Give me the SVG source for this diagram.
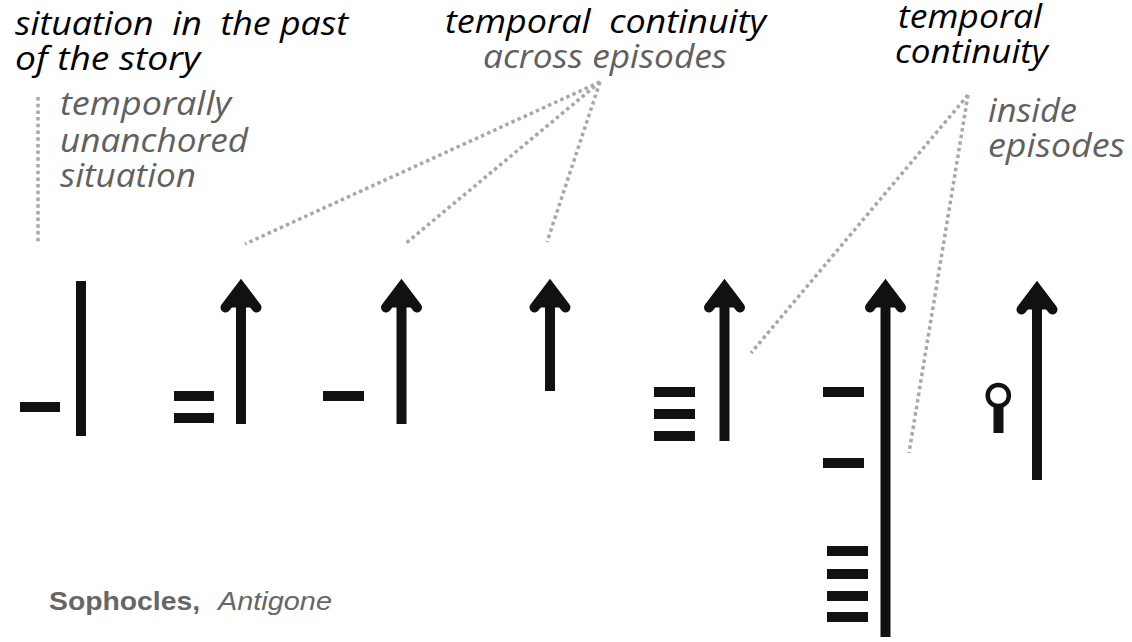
<svg xmlns="http://www.w3.org/2000/svg" xmlns:xlink="http://www.w3.org/1999/xlink" width="1132" height="642" viewBox="0 0 1132 642">
<style>
.t{font-family:"Open Sans","Liberation Sans",sans-serif;font-style:italic;font-size:33px;fill:#000}
.g{fill:#606060}
.dot{stroke:#a8a8a8;stroke-width:3.5;stroke-dasharray:3.5 3.2;fill:none}
.shaft{stroke:#111;stroke-width:10;fill:none}
.bar{fill:#111}
.cap{font-family:"Liberation Sans",Arial,sans-serif;font-size:26px;fill:#666}
</style>
<defs>
<polyline id="head" points="-15.5,30 0,9.5 15.5,30" fill="#111" stroke="#111" stroke-width="10" stroke-linecap="round" stroke-linejoin="miter"/>
</defs>
<rect width="1132" height="642" fill="#fff"/>

<g id="labels">
<text class="t" x="15" y="35" textLength="333" lengthAdjust="spacingAndGlyphs" xml:space="preserve">situation  in  the past</text>
<text class="t" x="15" y="70" textLength="185" lengthAdjust="spacingAndGlyphs">of the story</text>
<text class="t g" x="60" y="115" textLength="171" lengthAdjust="spacingAndGlyphs">temporally</text>
<text class="t g" x="60" y="152" textLength="188" lengthAdjust="spacingAndGlyphs">unanchored</text>
<text class="t g" x="60" y="187" textLength="136" lengthAdjust="spacingAndGlyphs">situation</text>
<text class="t" x="445" y="33" textLength="321" lengthAdjust="spacingAndGlyphs" xml:space="preserve">temporal  continuity</text>
<text class="t g" x="483" y="68" textLength="244" lengthAdjust="spacingAndGlyphs">across episodes</text>
<text class="t" x="898" y="28" textLength="144" lengthAdjust="spacingAndGlyphs">temporal</text>
<text class="t" x="895" y="63" textLength="153" lengthAdjust="spacingAndGlyphs">continuity</text>
<text class="t g" x="988" y="122" textLength="89" lengthAdjust="spacingAndGlyphs">inside</text>
<text class="t g" x="988" y="157" textLength="137" lengthAdjust="spacingAndGlyphs">episodes</text>
<text class="cap" x="49" y="610" font-weight="bold" textLength="151" lengthAdjust="spacingAndGlyphs">Sophocles,</text>
<text class="cap" x="218" y="610" font-style="italic" textLength="114" lengthAdjust="spacingAndGlyphs">Antigone</text>
</g>

<g id="connectors">
<line class="dot" x1="38" y1="97" x2="38" y2="243"/>
<line class="dot" x1="600" y1="82" x2="245" y2="244"/>
<line class="dot" x1="600" y1="82" x2="405" y2="244"/>
<line class="dot" x1="600" y1="82" x2="547" y2="242"/>
<line class="dot" x1="968" y1="95" x2="751" y2="353"/>
<line class="dot" x1="968" y1="95" x2="909" y2="453"/>
</g>

<g id="n1">
<rect class="bar" x="20" y="402" width="40" height="10"/>
<line class="shaft" x1="81" y1="281" x2="81" y2="436"/>
</g>

<g id="n2">
<rect class="bar" x="174" y="391" width="40" height="10"/>
<rect class="bar" x="174" y="413" width="40" height="10"/>
<line class="shaft" x1="241" y1="290" x2="241" y2="424"/>
<use xlink:href="#head" href="#head" transform="translate(241,277.5)"/>
</g>

<g id="n3">
<rect class="bar" x="323" y="391" width="41" height="10"/>
<line class="shaft" x1="401.5" y1="290" x2="401.5" y2="424"/>
<use xlink:href="#head" href="#head" transform="translate(401.5,277.5)"/>
</g>

<g id="n4">
<line class="shaft" x1="550" y1="290" x2="550" y2="391"/>
<use xlink:href="#head" href="#head" transform="translate(550,277.5)"/>
</g>

<g id="n5">
<rect class="bar" x="654" y="387" width="41" height="10"/>
<rect class="bar" x="654" y="409" width="41" height="10"/>
<rect class="bar" x="654" y="431" width="41" height="10"/>
<line class="shaft" x1="724.5" y1="290" x2="724.5" y2="441"/>
<use xlink:href="#head" href="#head" transform="translate(724.5,277.5)"/>
</g>

<g id="n6">
<rect class="bar" x="823" y="387" width="41" height="10"/>
<rect class="bar" x="823" y="458" width="41" height="10"/>
<rect class="bar" x="827" y="546" width="41" height="10"/>
<rect class="bar" x="827" y="569" width="41" height="10"/>
<rect class="bar" x="827" y="591" width="41" height="10"/>
<rect class="bar" x="827" y="612" width="41" height="10"/>
<line class="shaft" x1="885.5" y1="290" x2="885.5" y2="637" stroke-width="10.5"/>
<use xlink:href="#head" href="#head" transform="translate(885.5,277.5)"/>
</g>

<g id="n7">
<circle cx="998.3" cy="395.5" r="10.6" fill="#fff" stroke="#111" stroke-width="4.5"/>
<line class="shaft" x1="998.5" y1="406" x2="998.5" y2="433" stroke-width="8.5"/>
<line class="shaft" x1="1037" y1="292" x2="1037" y2="480"/>
<use xlink:href="#head" href="#head" transform="translate(1037,279.5)"/>
</g>
</svg>
